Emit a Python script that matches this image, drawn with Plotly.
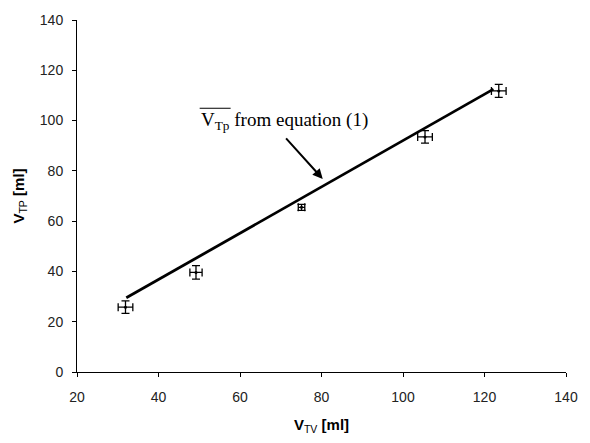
import plotly.graph_objects as go

# Data
v_tv = [31.9, 49.2, 75.1, 105.4, 123.5]
v_tp = [25.8, 39.6, 65.5, 93.5, 111.8]
err_x = [1.8, 1.5, 0.8, 1.8, 1.8]
err_y = [2.5, 2.7, 1.2, 2.5, 2.6]

fit_x = [32.1, 122.2]
fit_y = [29.5, 112.5]

x_ticks = [20, 40, 60, 80, 100, 120, 140]
y_ticks = [0, 20, 40, 60, 80, 100, 120, 140]

fig = go.Figure()
fig.add_trace(go.Scatter(
    x=fit_x, y=fit_y, mode="lines",
    line=dict(color="black", width=2.8), showlegend=False, hoverinfo="skip"))
fig.add_trace(go.Scatter(
    x=v_tv, y=v_tp, mode="markers",
    marker=dict(color="black", size=3),
    error_x=dict(type="data", array=err_x, color="black", thickness=1.3, width=4),
    error_y=dict(type="data", array=err_y, color="black", thickness=1.3, width=4),
    showlegend=False))

fig.add_annotation(
    x=80.3, y=76.8, xref="x", yref="y", text="",
    showarrow=True, arrowhead=2, arrowsize=1, arrowwidth=2, arrowcolor="black",
    ax=-38, ay=-42)
serif = "Liberation Serif"
fig.add_annotation(
    x=50.0, y=100.0, xref="x", yref="y", showarrow=False, xanchor="left",
    text="V<sub>Tp</sub> from equation (1)",
    font=dict(family=serif, size=19, color="black"))
# overline above V_Tp
fig.add_shape(type="line", xref="x", yref="y", x0=50.1, x1=57.7, y0=104.9, y1=104.9,
              line=dict(color="black", width=1))

axis_font = dict(family="Liberation Sans", size=14, color="#222")
title_font = dict(family="Liberation Sans", size=15, color="black")
fig.update_xaxes(
    range=[20, 140], tickvals=x_ticks, ticks="outside", ticklen=4, tickcolor="black",
    showline=True, linecolor="black", linewidth=1, showgrid=False, zeroline=False,
    tickfont=axis_font, ticklabelstandoff=8,
    title=dict(text="<b>V</b><sub>TV</sub><b> [ml]</b>", font=title_font, standoff=15))
fig.update_yaxes(
    range=[0, 140], tickvals=y_ticks, ticks="outside", ticklen=4, tickcolor="black",
    showline=True, linecolor="black", linewidth=1, showgrid=False, zeroline=False,
    tickfont=axis_font, ticklabelstandoff=6,
    title=dict(text="<b>V</b><sub>TP</sub><b> [ml]</b>", font=title_font, standoff=11))

fig.update_layout(
    width=590, height=443,
    margin=dict(l=77, r=12, t=17, b=71),
    plot_bgcolor="white", paper_bgcolor="white")

fig.write_html("out.html")
